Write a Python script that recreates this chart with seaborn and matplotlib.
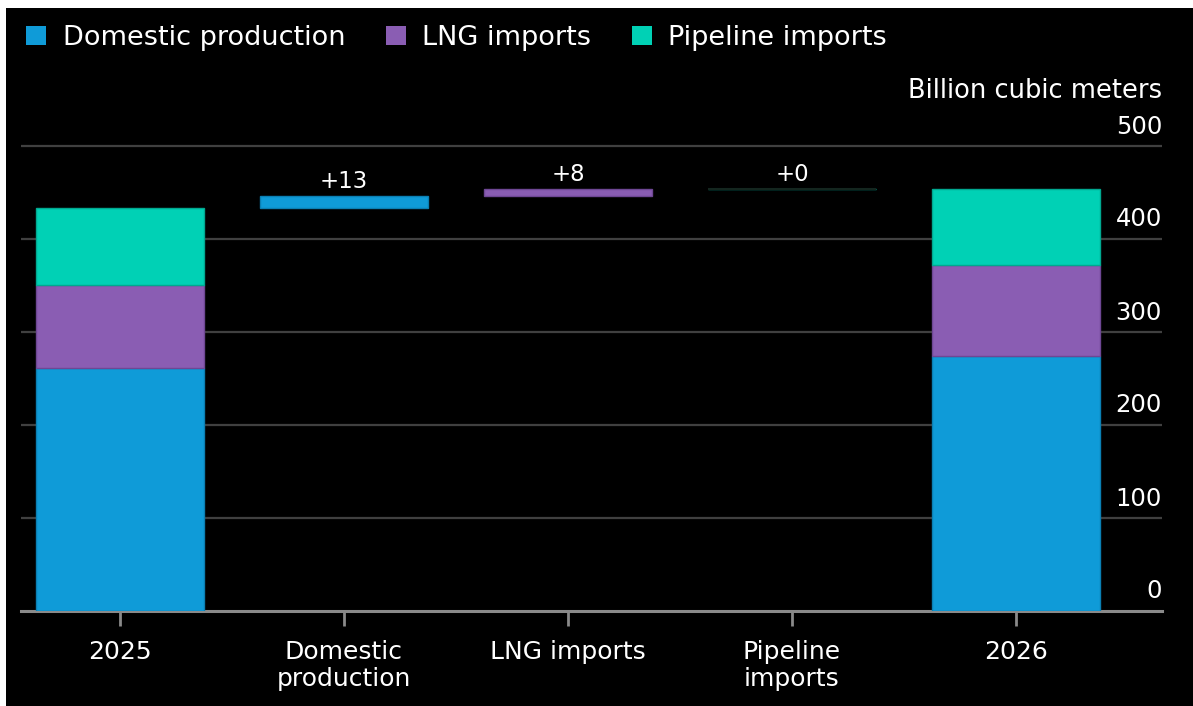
import matplotlib
matplotlib.use("Agg")
import matplotlib.pyplot as plt
from matplotlib.patches import Patch, Rectangle
import matplotlib.transforms as mtransforms
import seaborn as sns
import numpy as np

# ---- data ----
categories = ["2025", "Domestic\nproduction", "LNG imports", "Pipeline\nimports", "2026"]
series_names = ["Domestic production", "LNG imports", "Pipeline imports"]
start_2025 = [261, 90, 82]          # domestic, LNG, pipeline (bcm)
changes = [13, 8, 0]                # change per component
change_labels = ["+13", "+8", "+0"]
end_2026 = [s + c for s, c in zip(start_2025, changes)]
yticks = [0, 100, 200, 300, 400, 500]
colors = ["#0F9BD8", "#8A5DB3", "#00D1B5"]
edge_colors = ["#0A7FB3", "#6E4794", "#00A890"]
zero_bar_color = "#14261f"

sns.set_style("dark")
plt.rcParams["font.family"] = ["DejaVu Sans"]

W, H = 1193, 706
fig = plt.figure(figsize=(W / 100, H / 100), dpi=100, facecolor="white")
fig.patches.append(Rectangle((6 / W, 0), 1 - 6 / W, 1 - 8 / H, transform=fig.transFigure,
                             facecolor="black", edgecolor="none", zorder=-10))

ax_left, ax_right = 21, 1162
y0_px, y500_px = 611, 146
ppu = (y0_px - y500_px) / 500.0
ymax = 505
ax_top_px = y0_px - ymax * ppu
ax = fig.add_axes([ax_left / W, (H - y0_px) / H, (ax_right - ax_left) / W, (y0_px - ax_top_px) / H])
ax.set_facecolor("black")

# gridlines
for v in yticks[1:]:
    ax.axhline(v, color="#404040", lw=1.6, zorder=0)

# stacked bars for 2025 and 2026 + floating change bars
cum_start = np.concatenate([[0], np.cumsum(start_2025)[:-1]])
cum_end = np.concatenate([[0], np.cumsum(end_2026)[:-1]])
total_before = np.cumsum(start_2025)[-1]
running = total_before
float_bottoms = []
for c in changes:
    float_bottoms.append(running)
    running += c
for i in range(3):
    xs = [categories[0], categories[1 + i], categories[4]]
    hs = [start_2025[i], changes[i], end_2026[i]]
    bs = [cum_start[i], float_bottoms[i], cum_end[i]]
    sns.barplot(x=xs, y=hs, order=categories, bottom=bs, color=colors[i],
                width=0.75, errorbar=None, saturation=1, ax=ax,
                edgecolor=edge_colors[i], linewidth=1.0, zorder=3)

# zero-height pipeline bar line
xpos_pipe = 3
ax.hlines(float_bottoms[2], xpos_pipe - 0.375, xpos_pipe + 0.375, color=zero_bar_color, lw=1.5, zorder=3)

# change labels
for i in range(3):
    ax.annotate(change_labels[i], (1 + i, float_bottoms[i] + changes[i]),
                xytext=(0, 2), textcoords="offset points", ha="center", va="bottom",
                color="white", fontsize=16.5)

ax.set_xlim(-0.442, 4.652)
ax.set_ylim(0, ymax)
ax.set_yticks([])
ax.set_xlabel("")
ax.set_ylabel("")
for s in ["top", "left", "right"]:
    ax.spines[s].set_visible(False)
ax.spines["bottom"].set_color("#8a8a8a")
ax.spines["bottom"].set_linewidth(2.2)
ax.grid(False)
ax.tick_params(axis="x", bottom=True, colors="#8a8a8a", length=11, width=2, direction="out",
               pad=10, labelcolor="white", labelsize=18)
ax.set_xticks(range(len(categories)))
ax.set_xticklabels(categories, linespacing=1.15)

# y tick labels at right, inside, above gridlines
trans = mtransforms.blended_transform_factory(ax.transAxes, ax.transData)
for v in yticks:
    ax.annotate(str(v), (1.0, v), xycoords=trans, xytext=(0, 9), textcoords="offset points",
                ha="right", va="baseline", color="white", fontsize=17.5, annotation_clip=False)

fig.text(ax_right / W, (H - 98) / H, "Billion cubic meters", ha="right", va="baseline",
         color="white", fontsize=18.5)

handles = [Patch(facecolor=c, edgecolor="none") for c in colors]
leg = fig.legend(handles, series_names, loc="upper left", bbox_to_anchor=(26 / W, 1 - 25 / H),
                 ncol=3, frameon=False, fontsize=19.5, handlelength=0.75, handleheight=0.75,
                 handletextpad=0.6, columnspacing=1.5, labelcolor="white", borderaxespad=0,
                 borderpad=0)

fig.savefig("out.png", dpi=100, facecolor=fig.get_facecolor())
